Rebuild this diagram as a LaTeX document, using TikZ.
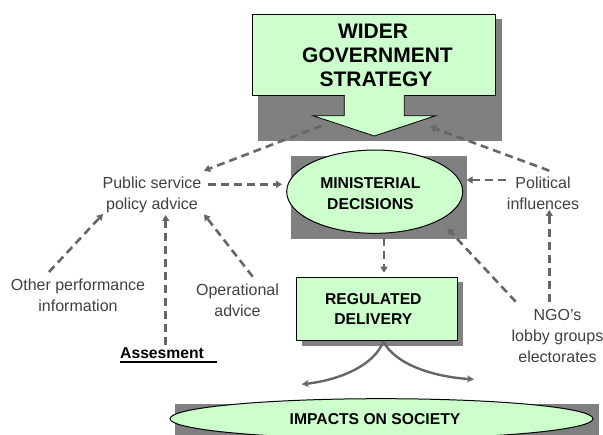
\documentclass[tikz,border=0pt]{standalone}
\usepackage{fontspec}
\setmainfont{Liberation Sans}
\usetikzlibrary{arrows.meta,shapes.geometric,calc}
\definecolor{mint}{HTML}{CCFFCC}
\definecolor{shadowgray}{HTML}{808080}
\definecolor{conn}{HTML}{666666}
\definecolor{txt}{HTML}{404040}
\tikzset{
 x=1pt,y=-1pt,
 conlink/.style={draw=conn,line width=2.6pt,dash pattern=on 8pt off 5pt,-{Triangle[length=6pt,width=7pt]}},
 solidlink/.style={draw=conn,line width=2.4pt,-{Stealth[length=7pt,width=7pt,inset=2pt]}},
 shadowfill/.style={fill=shadowgray,draw=none},
 boxnode/.style={draw=black,fill=mint,line width=.8pt,align=center,inner sep=0pt},
 ovalnode/.style={ellipse,draw=black,fill=mint,line width=1pt,align=center,inner sep=0pt},
 plain/.style={text=txt,align=center,font=\fontsize{16pt}{21pt}\selectfont,inner sep=0pt},
 boldlabel/.style={font=\bfseries\fontsize{15.7pt}{20.5pt}\selectfont},
}
\begin{document}
\begin{tikzpicture}
\useasboundingbox (0,0) rectangle (603,435);
% shadows
\fill[shadowfill] (258,19) rectangle (502,140.7);
\fill[shadowfill] (291,155.7) rectangle (467.3,239);
\fill[shadowfill] (302,282) rectangle (463,346);
\fill[shadowfill] (175,404) rectangle (599,435);
% top box with arrow
\node[boxnode,minimum width=243pt,minimum height=81.4pt,font=\bfseries\fontsize{21pt}{24pt}\selectfont] (wider) at (374.3,55) {WIDER\kern2.6pt\\\kern6.4ptGOVERNMENT\\\kern3.4ptSTRATEGY};
\draw[black,line width=.8pt,fill=mint] (344.3,95.7) -- (344.3,115.7) -- (313,115.7) -- (374.3,136) -- (435.7,115.7) -- (404.3,115.7) -- (404.3,95.7);
\fill[mint] (344.7,94) rectangle (403.9,97);
% ovals and boxes
\node[ovalnode,minimum width=176pt,minimum height=83.3pt,boldlabel] (minist) at (374.7,191.7) {\rule{0pt}{14.5pt}MINISTERIAL\kern8.6pt\\DECISIONS\kern8.6pt};
\node[boxnode,minimum width=160.6pt,minimum height=63.4pt,boldlabel] (regul) at (377,309) {REGULATED\kern7.4pt\\DELIVERY\kern7.4pt};
\node[ovalnode,minimum width=423pt,minimum height=40pt,boldlabel] (impacts) at (381.5,418.7) {IMPACTS ON SOCIETY\kern13pt};
% plain labels
\node[plain] (public) at (152,194.7) {Public service\\policy advice};
\node[plain] (other) at (78,295) {Other performance\\information};
\node[plain] (oper) at (237.5,300) {Operational\\advice};
\node[plain] (polit) at (543,193) {Political\\influences};
\node[plain] (ngo) at (557.5,336) {NGO’s\\lobby groups\\electorates};
\node[inner sep=0pt,anchor=base west,font=\bfseries\fontsize{15.7pt}{18pt}\selectfont] (assess) at (120,359) {\rlap{\rule[-3.8pt]{97pt}{1.6pt}}Assesment};
% connectors
\draw[conlink] ($(wider.center)+(-52.6,70.7)$) -- ($(public.center)+(52,-24)$);
\draw[conlink] ($(public.center)+(55.7,-10.4)$) -- ($(minist.center)+(-92.7,-7.4)$);
\draw[conlink] ($(other.center)+(-29,-23)$) -- ($(public.center)+(-49,19.3)$);
\draw[conlink] ($(assess.base west)+(45.7,-14)$) -- ($(public.center)+(13.7,20.3)$);
\draw[conlink] ($(oper.center)+(15.2,-23.3)$) -- ($(public.center)+(52,19.6)$);
\draw[conlink] ($(minist.center)+(9.3,46.3)$) -- ($(regul.center)+(7,-36.3)$);
\draw[conlink] ($(polit.center)+(6.3,-22.3)$) -- ($(wider.center)+(55.7,71.7)$);
\draw[conlink] ($(polit.center)+(-37,-13)$) -- ($(minist.center)+(92,-11.7)$);
\draw[conlink] ($(ngo.center)+(-8.2,-34.3)$) -- ($(polit.center)+(6.3,17)$);
\draw[conlink] ($(ngo.center)+(-41.8,-34.3)$) -- ($(minist.center)+(72.6,36.6)$);
\draw[solidlink] (regul.south -| 383.3,0) .. controls (375,365) and (340,380) .. (301.7,384.3);
\draw[solidlink] (regul.south -| 383.3,0) .. controls (395,365) and (435,377) .. (474,379.3);
\end{tikzpicture}
\end{document}
